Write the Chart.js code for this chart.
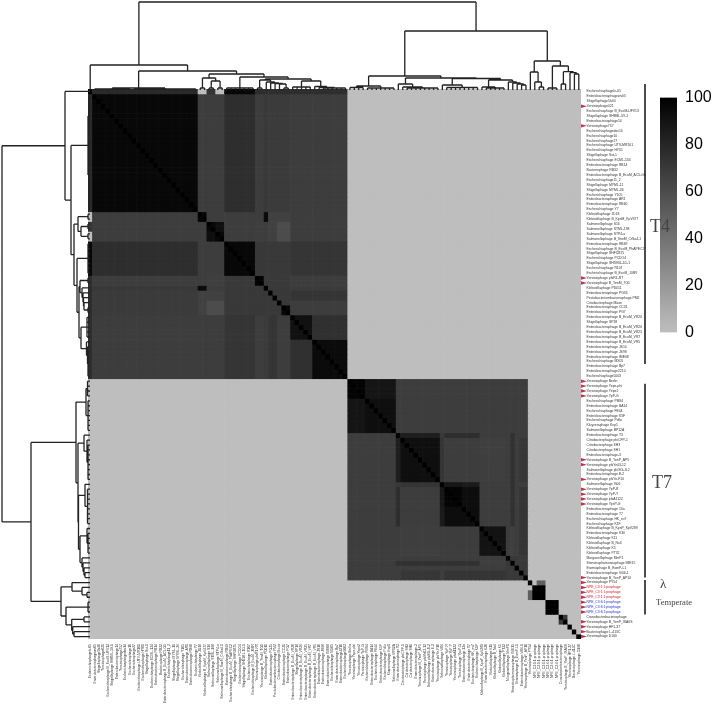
<!DOCTYPE html>
<html>
<head>
<meta charset="utf-8">
<title>Phage similarity heatmap</title>
<script src="https://cdn.jsdelivr.net/npm/chart.js@4/dist/chart.umd.min.js"></script>
<style>
  body { margin: 0; background: #fff; }
  canvas { position: absolute; }
</style>
</head>
<body>
<canvas id="colorbar" width="53" height="270" style="left:660px;top:80px"></canvas>
<canvas id="heatmap" width="713" height="707" style="left:0;top:0"></canvas>
<canvas id="topTree" width="493" height="90" style="left:88px;top:0"></canvas>
<canvas id="leftTree" width="90" height="550" style="left:0;top:89px"></canvas>
<script>
// labels of the 112 genomes, top to bottom (same order left to right)
const t4Labels = [
  "Escherichiaphagelv-05", "Enterobacteriaphagewv05", "Shigellaphage5h40", "Yersiniophage021",
  "Escherichiaphage B_EcoM-UFV13", "Shigellaphage SH8ML-59-1", "Enterobacteriaphage14", "Yersiniophage757",
  "Escherichiaphagedav14", "Escherichiaphage10", "Escherichiaphage27", "Escherichiaphage UTV-MR101",
  "Escherichiaphage HY01", "Shigellaphage Sst-1", "Escherichiaphage ECML-134", "Enterobacteriaphage RB14",
  "Bacteriophage RB32", "Enterobacteriaphage B_EcoM_AC5-G5", "Escherichiaphage11_2", "Shigellaphage MYML-11",
  "Shigellaphage MYML-36", "Escherichiaphage Y105", "Enterobacteriaphage AR1", "Enterobacteriaphage RB60",
  "Escherichiaphage Y7", "Klebsiellaphage JD18", "Klebsiellaphage B_KpnM_KpV477", "Salmonellaphage S16",
  "Salmonellaphage STML-198", "Salmonellaphage STP4-a", "Salmonellaphage B_SneM_CrSa4-1", "Enterobacteriaphage RB69",
  "Escherichiaphage B_EcoM_PhAPEC2", "Shigellaphage SHFI2875", "Escherichiaphage PCDO4", "Shigellaphage SH59BL-1D-1",
  "Escherichiaphage R107", "Escherichiaphage B_EcoM_J08R", "Yersiniophage phiR1-RT", "Yersiniophage B_YenM_TG1",
  "Klebsiellaphage PD011", "Enterobacteriaphage PG35", "Pectobacteriumbacteriophage PM2", "Citrobacterphage Moon",
  "Enterobacteriaphage CC31", "Enterobacteriaphage PG7", "Enterobacteriaphage B_EcoM_VR20", "Shigellaphage SP18",
  "Enterobacteriaphage B_EcoM_VR26", "Enterobacteriaphage B_EcoM_VR25", "Enterobacteriaphage B_EcoM_VR7", "Enterobacteriaphage B_EcoM_VR5",
  "Enterobacteriaphage JS10", "Enterobacteriaphage JS98", "Enterobacteriaphage IME08", "Escherichiaphage MX05",
  "Enterobacteriaphage Bp7", "Enterobacteriaphage2210", "Escherichiaphage5003"
];
const t7Labels = [
  "Yersiniophage Berlin", "Yersiniophage Yepe-phi", "Yersiniophage Yepe2", "Yersiniophage YpP-G",
  "Escherichiaphage PBS4", "Enterobacteriaphage BA14", "Escherichiaphage FE44", "Enterobacteriaphage K5F",
  "Escherichiaphage Pollo", "Kluyveraphage Kvp1", "Salmonellaphage BP12A", "Enterobacteriaphage T3",
  "Citrobacterphage phiCFP-1", "Citrobacterphage SH3", "Citrobacterphage SH1", "Enterobacteriaphage-3",
  "Yersiniophage B_YenP_AP5", "Yersiniophage phiYe03-12", "Salmonellaphage phiSG-JL2", "Enterobacteriaphage E-2",
  "Yersiniophage phiYe-F10", "Salmonellaphage Vi06", "Yersiniophage YpP-R", "Yersiniophage YpP-Y",
  "Yersiniophage phiA1122", "Yersiniophage YpsP-G", "Enterobacteriaphage 13a", "Enterobacteriaphage T7",
  "Escherichiaphage HK_ev7", "Escherichiaphage K1F", "Klebsiellaphage B_KpnP_KpV289", "Enterobacteriaphage K30",
  "Klebsiellaphage K11", "Klebsiellaphage B_Ns4", "Klebsiellaphage K5", "Klebsiellaphage PT32",
  "Morganellaphage MmP1", "Stenotrophomonasphage IME15", "Erwiniaphage B_EamP-L1", "Enterobacteriaphage Vi06-1",
  "Yersiniophage B_YenP_AP10"
];
const temperateLabels = [
  "Yersiniophage PY54", "NPE_C3:1:1:prophage", "NPE_C3:1:1:prophage", "NPE_C3:1:1:prophage",
  "NPE_C3:6:1:prophage", "NPE_C3:6:1:prophage", "NPE_C3:6:1:prophage", "Cronobacterbacteriophage",
  "Yersiniophage B_YenP_ISA0S", "Yersiniophage HF1-37", "Bacteriophage L-413C", "Yersiniophage D160"
];
const genomeLabels = [...t4Labels, ...t7Labels, ...temperateLabels];

// genomes in each block of the matrix, in the order they appear on the diagonal
const t4Sizes = [1, 24, 2, 2, 2, 7, 2, 1, 1, 1, 1, 2, 5, 8];
const t7Sizes = [4, 7, 1, 9, 1, 4, 4, 6, 1, 1, 1, 1, 1];
const temperateSizes = [1, 1, 2, 3, 2, 1, 1, 1];

// % similarity between blocks
const t4Similarity = [
  [100, 78, 0, 72, 0, 96, 76, 76, 76, 76, 76, 76, 76, 76],
  [78, 96, 68, 68, 68, 76, 68, 70, 69, 69, 69, 69, 68, 68],
  [0, 68, 97, 68, 68, 68, 68, 95, 66, 66, 66, 66, 68, 68],
  [72, 68, 68, 96, 92, 68, 67, 68, 66, 66, 60, 60, 68, 68],
  [0, 68, 68, 92, 96, 68, 67, 68, 66, 66, 60, 60, 68, 68],
  [96, 76, 68, 68, 68, 96, 70, 70, 70, 70, 70, 70, 72, 72],
  [76, 68, 68, 67, 67, 70, 98, 70, 70, 70, 70, 70, 68, 68],
  [76, 70, 95, 68, 68, 70, 70, 100, 70, 70, 70, 70, 69, 69],
  [76, 69, 66, 66, 66, 70, 70, 70, 100, 70, 70, 70, 72, 72],
  [76, 69, 66, 66, 66, 70, 70, 70, 70, 100, 70, 70, 72, 72],
  [76, 69, 66, 60, 60, 70, 70, 70, 70, 70, 100, 70, 68, 68],
  [76, 69, 66, 60, 60, 70, 70, 70, 70, 70, 70, 96, 68, 68],
  [76, 68, 68, 68, 68, 72, 68, 69, 72, 72, 68, 68, 91, 75],
  [76, 68, 68, 68, 68, 72, 68, 69, 72, 72, 68, 68, 75, 94]
];
const t7Similarity = [
  [98, 89, 68, 68, 68, 68, 68, 68, 68, 68, 68, 68, 68],
  [89, 92, 68, 68, 68, 68, 68, 68, 68, 68, 68, 68, 68],
  [68, 68, 100, 84, 70, 76, 76, 68, 68, 74, 68, 68, 68],
  [68, 68, 84, 92, 72, 68, 68, 67, 68, 74, 68, 71, 71],
  [68, 68, 70, 72, 100, 88, 86, 68, 68, 74, 68, 68, 68],
  [68, 68, 76, 68, 88, 98, 93, 68, 68, 74, 68, 72, 72],
  [68, 68, 76, 68, 86, 93, 93, 68, 68, 74, 68, 72, 72],
  [68, 68, 68, 67, 68, 68, 68, 90, 68, 67, 68, 72, 72],
  [68, 68, 68, 68, 68, 68, 68, 68, 100, 70, 70, 70, 70],
  [68, 68, 74, 74, 74, 74, 74, 67, 70, 100, 70, 70, 70],
  [68, 68, 68, 68, 68, 68, 68, 68, 70, 70, 100, 70, 70],
  [68, 68, 68, 71, 68, 72, 72, 72, 70, 70, 70, 100, 70],
  [68, 68, 68, 71, 68, 72, 72, 72, 70, 70, 70, 70, 100]
];
const temperateSimilarity = [
  [100, 0, 50, 0, 0, 0, 0, 0],
  [0, 100, 100, 0, 0, 0, 0, 0],
  [50, 100, 100, 0, 0, 0, 0, 0],
  [0, 0, 0, 100, 0, 0, 0, 0],
  [0, 0, 0, 0, 70, 0, 0, 0],
  [0, 0, 0, 0, 0, 100, 0, 0],
  [0, 0, 0, 0, 0, 0, 100, 0],
  [0, 0, 0, 0, 0, 0, 0, 100]
];

// dendrogram: [merge height, child, child, ...], a plain number is a genome
const cols = (a, b) => Array.from({ length: b - a + 1 }, (_, i) => a + i);
const t4Tree = [25, 0, [19,
  [2, [1, ...cols(1, 9)], [1, ...cols(10, 24)]],
  [16,
    [12, [2, 25, 26], [9, [2, 27, 28], [2, 29, 30]]],
    [13,
      [2, ...cols(31, 37)],
      [11,
        [10, [2, 38, 39], [8, 40, [7, 41, [6.5, 42, [6, 43, [2, 44, 45]]]]]],
        [9, [3, ...cols(46, 50)], [3.5, 51, [2.5, 52, [2, ...cols(53, 58)]]]]
      ]
    ]
  ]
]];
const t7Tree = [14,
  [4, [2.5, ...cols(59, 62)], [2, ...cols(63, 69)]],
  [12,
    [6, 70, [3, 71, [2, ...cols(72, 79)]]],
    [11.5,
      [5, 80, [2.5, ...cols(81, 88)]],
      [10, [3, 89, [2, ...cols(90, 94)]], [8, 95, [7, 96, [6, 97, [5, 98, 99]]]]]
    ]
  ]
];
const temperateTree = [29,
  [18, 100, [8, 101, [3, 102, 103]]],
  [24, [2, ...cols(104, 106)], [18.3, [6, 107, 108], [17.3, 109, [16, 110, 111]]]]
];
const rootTree = [88, t4Tree, [59, t7Tree, temperateTree]];

// annotations to the right of the labels
const markedRows = [3, 7, 38, 39, 59, 60, 61, 62, 75, 76, 79, 81, 82, 83, 84, 99, 100, 101, 102, 103, 104, 105, 106, 108, 109, 110, 111];
const redRows = [101, 102, 103];
const blueRows = [104, 105, 106];
const bracketStarts = [-1, 60, 100];
const bracketEnds = [56, 99.5, 107];
const colorbarTicks = [0, 20, 40, 60, 80, 100];

const N = genomeLabels.length;

function grey(v) {
  const g = Math.round(190 * (1 - v / 100));
  return `rgb(${g},${g},${g})`;
}

// which table and block every genome falls in
const blockOf = [];
[[t4Sizes, t4Similarity], [t7Sizes, t7Similarity], [temperateSizes, temperateSimilarity]].forEach(([sizes, table]) => {
  sizes.forEach((size, block) => {
    for (let i = 0; i < size; i++) blockOf.push({ table, block });
  });
});

function similarity(row, col) {
  if (row === col) return 100;
  const a = blockOf[row];
  const b = blockOf[col];
  return a.table === b.table ? a.table[a.block][b.block] : 0;
}

// one stacked bar dataset per row, each segment is one cell
const heatDatasets = genomeLabels.map((_, row) => ({
  data: genomeLabels.map(() => 1),
  backgroundColor: genomeLabels.map((_, col) => grey(similarity(row, col))),
  barPercentage: 1,
  categoryPercentage: 1,
  stack: "cells",
}));

const annotations = {
  id: "annotations",
  afterDraw(chart) {
    const { ctx, scales } = chart;
    const y = (row) => scales.y.getPixelForValue(row);
    ctx.save();

    // red arrows in front of the labels
    ctx.fillStyle = "#b23a55";
    markedRows.forEach((row) => {
      const c = y(row + 0.5);
      ctx.beginPath();
      ctx.moveTo(581, c - 1.7);
      ctx.lineTo(587, c);
      ctx.lineTo(581, c + 1.7);
      ctx.fill();
    });

    // group brackets
    ctx.strokeStyle = "#111";
    ctx.lineWidth = 1.5;
    bracketStarts.forEach((start, i) => {
      ctx.beginPath();
      ctx.moveTo(645, y(start));
      ctx.lineTo(645, y(bracketEnds[i]));
      ctx.stroke();
    });

    // group names
    ctx.fillStyle = "#444";
    ctx.textAlign = "left";
    ctx.textBaseline = "middle";
    ctx.font = "18px 'Liberation Serif'";
    ctx.fillText("T4", 650, 227);
    ctx.fillText("T7", 652, 483);
    ctx.font = "13px 'Liberation Serif'";
    ctx.fillText("λ", 660, 585);
    ctx.font = "8.6px 'Liberation Serif'";
    ctx.fillText("Temperate", 656, 603);
    ctx.restore();
  },
};

new Chart(document.getElementById("heatmap"), {
  type: "bar",
  data: { labels: genomeLabels, datasets: heatDatasets },
  plugins: [annotations],
  options: {
    responsive: false,
    animation: false,
    events: [],
    layout: { padding: { left: 88, top: 89 } },
    plugins: { legend: { display: false }, tooltip: { enabled: false } },
    scales: {
      x: {
        stacked: true,
        afterFit: (scale) => { scale.height = 68; },
        border: { display: false },
        grid: { display: false, drawTicks: false },
        ticks: {
          autoSkip: false,
          minRotation: 90,
          maxRotation: 90,
          padding: 5,
          font: { size: 3.4, family: "Liberation Sans" },
          color: "#333",
        },
      },
      y: {
        stacked: true,
        position: "right",
        reverse: true,
        min: 0,
        max: N,
        afterFit: (scale) => { scale.width = 132; },
        afterBuildTicks: (scale) => {
          scale.ticks = genomeLabels.map((_, i) => ({ value: i + 0.5 }));
        },
        border: { display: false },
        grid: { display: false, drawTicks: false },
        ticks: {
          autoSkip: false,
          padding: 5.5,
          font: { size: 3.4, family: "Liberation Sans" },
          callback: (value) => genomeLabels[value - 0.5],
          color: (ctx) => {
            if (redRows.includes(ctx.index)) return "#c8202a";
            if (blueRows.includes(ctx.index)) return "#2230c8";
            return "#333";
          },
        },
      },
    },
  },
});

// walk the tree, returns the node position, pushes the drawn path with gaps
function treePath(node, out) {
  if (typeof node === "number") return { pos: node + 0.5, height: 0 };
  const [height, ...children] = node;
  const kids = children.map((child) => treePath(child, out));
  const first = kids[0].pos;
  const last = kids[kids.length - 1].pos;
  out.push({ pos: first, height }, { pos: last, height }, { pos: null, height: null });
  kids.forEach((kid) => {
    out.push({ pos: kid.pos, height }, { pos: kid.pos, height: kid.height }, { pos: null, height: null });
  });
  return { pos: (first + last) / 2, height };
}

const treePoints = [];
treePath(rootTree, treePoints);

function drawTree(id, points, xScale, yScale) {
  new Chart(document.getElementById(id), {
    type: "scatter",
    data: {
      datasets: [{
        data: points,
        showLine: true,
        spanGaps: false,
        pointRadius: 0,
        borderColor: "#222",
        borderWidth: 1.3,
        clip: false,
      }],
    },
    options: {
      responsive: false,
      animation: false,
      events: [],
      layout: { padding: 0 },
      plugins: { legend: { display: false }, tooltip: { enabled: false } },
      scales: { x: { display: false, ...xScale }, y: { display: false, ...yScale } },
    },
  });
}

drawTree("topTree",
  treePoints.map((p) => ({ x: p.pos, y: p.height })),
  { type: "linear", min: 0, max: N },
  { type: "linear", min: 0, max: 90 });
drawTree("leftTree",
  treePoints.map((p) => ({ x: p.height, y: p.pos })),
  { type: "linear", min: 0, max: 90, reverse: true },
  { type: "linear", min: 0, max: N, reverse: true });

// colour key
new Chart(document.getElementById("colorbar"), {
  type: "bar",
  data: {
    labels: ["similarity"],
    datasets: [{
      data: [100],
      barPercentage: 1,
      categoryPercentage: 1,
      backgroundColor: (ctx) => {
        const { chart } = ctx;
        if (!chart.chartArea) return "#888";
        const y = chart.scales.y;
        const ramp = chart.ctx.createLinearGradient(0, y.getPixelForValue(0), 0, y.getPixelForValue(100));
        ramp.addColorStop(0, grey(0));
        ramp.addColorStop(1, grey(100));
        return ramp;
      },
    }],
  },
  options: {
    responsive: false,
    animation: false,
    events: [],
    layout: { padding: { top: 9, bottom: 11 } },
    plugins: { legend: { display: false }, tooltip: { enabled: false } },
    scales: {
      x: { display: false },
      y: {
        position: "right",
        min: 0,
        max: 100,
        afterFit: (scale) => { scale.width = 36; },
        afterBuildTicks: (scale) => {
          scale.ticks = colorbarTicks.map((value) => ({ value }));
        },
        border: { display: false },
        grid: { display: false, drawTicks: false },
        ticks: { padding: 8, color: "#000", font: { size: 16, family: "Liberation Sans" } },
      },
    },
  },
});
</script>
</body>
</html>
